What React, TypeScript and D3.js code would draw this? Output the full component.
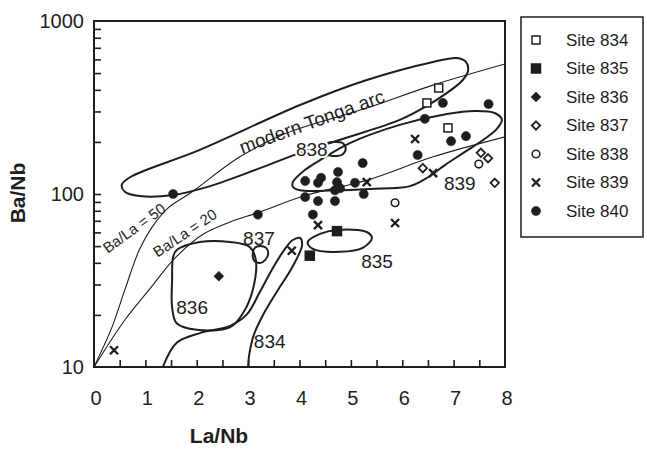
import { useEffect, useRef } from 'react'
import * as d3 from 'd3'

// [La/Nb, Ba/Nb] pairs
const site834 = [[6.71, 410], [6.48, 336], [6.89, 241]]
const site835 = [[4.73, 61], [4.2, 44]]
const site836 = [[2.43, 33.5]]
const site837 = [[6.4, 141], [7.53, 173], [7.67, 161], [7.8, 116]]
const site838 = [[7.49, 149], [5.86, 89]]
const site839 = [[6.25, 208], [6.6, 132], [5.31, 117], [5.86, 68], [4.36, 66], [0.39, 12.5], [3.85, 47]]
const site840 = [
  [6.79, 336], [7.68, 331], [6.44, 272], [6.95, 202], [7.24, 216], [6.3, 168],
  [5.23, 151], [4.75, 134], [4.11, 119], [4.36, 116], [4.42, 124], [4.73, 117],
  [4.69, 105], [4.79, 108], [5.08, 116], [4.11, 96], [4.36, 91], [4.69, 91],
  [5.25, 100], [4.26, 76], [1.54, 100], [3.19, 76],
]

// reference lines
const baLa50 = [
  [0, 10], [0.35, 17], [0.6, 27.9], [0.88, 47.4], [1.13, 64.4], [1.46, 84],
  [1.87, 101], [2.84, 164], [3.75, 225], [5.31, 314], [6.6, 426], [8, 564],
]
const baLa20 = [
  [0, 10], [0.6, 18.7], [1.07, 27.9], [1.58, 42.7], [2.1, 58], [2.65, 68.9],
  [3.17, 77.6], [4.14, 98.6], [5.31, 120], [6.6, 164], [8, 214],
]

// field outlines
const fieldTonga = [
  [0.54, 113], [0.7, 125], [2.06, 180], [4.01, 327], [5.31, 456], [6.6, 580],
  [7.06, 611], [7.24, 580], [7.28, 514], [7.16, 450], [6.87, 384], [6.48, 323],
  [5.95, 268], [4.84, 208], [4.01, 173], [3.23, 141], [2.26, 111], [1.54, 98.6],
  [0.89, 97.3], [0.6, 103],
]
const field839 = [
  [3.87, 117], [4.11, 138], [4.4, 157], [4.98, 197], [5.95, 251], [6.87, 290],
  [7.41, 302], [7.8, 294], [7.94, 268], [7.84, 238], [7.65, 213], [7.22, 175],
  [6.83, 147], [6.5, 125], [6.15, 111], [5.37, 107], [4.69, 105], [4.01, 105],
  [3.87, 110],
]
const field838 = [
  [4.49, 182], [4.55, 197], [4.69, 200], [4.84, 197], [4.9, 182], [4.82, 168],
  [4.69, 166], [4.55, 168],
]
const field835 = [
  [4.16, 52.8], [4.4, 58.8], [4.73, 62], [5.31, 60.3], [5.41, 55.7], [5.23, 48.8],
  [4.79, 46.3], [4.26, 48.1],
]
const field837 = [
  [3.09, 45], [3.13, 48.8], [3.23, 50.1], [3.35, 48.8], [3.39, 45], [3.33, 41.5],
  [3.23, 39.9], [3.11, 41.5],
]
const field836 = [
  [1.61, 47.4], [2.06, 52.8], [2.65, 52.8], [3.03, 49.4], [3.15, 41.5], [3.09, 27.9],
  [2.9, 20.5], [2.65, 17], [2.0, 16.4], [1.61, 17.9], [1.52, 22.2], [1.52, 31.8],
  [1.54, 43.3],
]
// open at the bottom axis
const field834 = [
  [1.34, 10], [1.61, 13.8], [2.06, 15.7], [2.65, 17.3], [2.98, 20.2], [3.23, 27.2],
  [3.46, 36.4], [3.7, 47.4], [3.87, 54.2], [4.01, 55.7], [4.05, 50.7], [3.85, 37.3],
  [3.58, 27.9], [3.31, 20.5], [3.11, 15.3], [3.02, 11.7], [3.0, 10],
]

// annotation text: [text, La/Nb, Ba/Nb, rotation, size]
const annotations: [string, number, number, number, number][] = [
  ['modern Tonga arc', 4.24, 262, -20, 19],
  ['838', 4.24, 180, 0, 19],
  ['839', 7.12, 116, 0, 19],
  ['835', 5.51, 41, 0, 19],
  ['837', 3.21, 55.7, 0, 19],
  ['836', 1.91, 22.2, 0, 19],
  ['834', 3.42, 14.1, 0, 19],
  ['Ba/La = 50', 0.78, 63.5, -36, 15],
  ['Ba/La = 20', 1.77, 59.5, -34, 15],
]

const xTicks = [0, 1, 2, 3, 4, 5, 6, 7, 8]
const xMinorTicks = [0.5, 1, 1.5, 2, 2.5, 3, 3.5, 4, 4.5, 5, 5.5, 6, 6.5, 7, 7.5]
const yTicks = [10, 100, 1000]

const siteNames = ['Site 834', 'Site 835', 'Site 836', 'Site 837', 'Site 838', 'Site 839', 'Site 840']
const siteShapes = ['squareOpen', 'square', 'diamond', 'diamondOpen', 'circleOpen', 'cross', 'circle']
const siteData = [site834, site835, site836, site837, site838, site839, site840]

const INK = '#1e1e1e'
const FONT = '"Liberation Sans", Arial, Helvetica, sans-serif'

function drawMarker(g: any, shape: string, cx: number, cy: number) {
  if (shape === 'squareOpen' || shape === 'square') {
    const s = shape === 'square' ? 9 : 8
    g.append('rect')
      .attr('x', cx - s / 2).attr('y', cy - s / 2)
      .attr('width', s).attr('height', s)
      .attr('fill', shape === 'square' ? INK : 'white')
      .attr('stroke', INK).attr('stroke-width', 1.5)
  } else if (shape === 'circle' || shape === 'circleOpen') {
    g.append('circle')
      .attr('cx', cx).attr('cy', cy)
      .attr('r', shape === 'circle' ? 4.6 : 3.8)
      .attr('fill', shape === 'circle' ? INK : 'white')
      .attr('stroke', INK).attr('stroke-width', shape === 'circle' ? 0.5 : 1.6)
  } else if (shape === 'diamond' || shape === 'diamondOpen') {
    const r = shape === 'diamond' ? 5 : 4.2
    g.append('path')
      .attr('d', `M${cx},${cy - r}L${cx + r},${cy}L${cx},${cy + r}L${cx - r},${cy}Z`)
      .attr('fill', shape === 'diamond' ? INK : 'white')
      .attr('stroke', INK).attr('stroke-width', shape === 'diamond' ? 0.5 : 1.8)
  } else if (shape === 'cross') {
    const r = 4
    g.append('path')
      .attr('d', `M${cx - r},${cy - r}L${cx + r},${cy + r}M${cx + r},${cy - r}L${cx - r},${cy + r}`)
      .attr('stroke', INK).attr('stroke-width', 2.4).attr('fill', 'none')
  }
}

export default function App() {
  const svgRef = useRef<SVGSVGElement>(null)

  useEffect(() => {
    if (!svgRef.current) return
    const svg = d3.select(svgRef.current)
    svg.selectAll('*').remove()

    const x = d3.scaleLinear().domain([0, 8]).range([94, 505])
    const y = d3.scaleLog().domain([10, 1000]).range([367, 21])

    svg.append('rect').attr('width', 647).attr('height', 452).attr('fill', 'white')

    // clip to plot area
    svg.append('defs').append('clipPath').attr('id', 'plotclip')
      .append('rect').attr('x', 94).attr('y', 21).attr('width', 411).attr('height', 346)

    const line = d3.line<number[]>().x(d => x(d[0])).y(d => y(d[1]))
    const layer = svg.append('g').attr('clip-path', 'url(#plotclip)')

    // ratio lines
    ;[baLa50, baLa20].forEach(pts => {
      layer.append('path')
        .attr('d', line.curve(d3.curveCatmullRom.alpha(0.5))(pts))
        .attr('fill', 'none').attr('stroke', INK).attr('stroke-width', 1.1)
    })

    // fields
    ;[fieldTonga, field839, field838, field835, field837, field836].forEach(pts => {
      layer.append('path')
        .attr('d', line.curve(d3.curveCatmullRomClosed.alpha(0.5))(pts))
        .attr('fill', 'none').attr('stroke', INK).attr('stroke-width', 2)
    })
    layer.append('path')
      .attr('d', line.curve(d3.curveCatmullRom.alpha(0.5))(field834))
      .attr('fill', 'none').attr('stroke', INK).attr('stroke-width', 2)

    // annotations
    annotations.forEach(([t, ax, ay, rot, size]) => {
      layer.append('text')
        .attr('transform', `translate(${x(ax)},${y(ay)}) rotate(${rot})`)
        .attr('text-anchor', 'middle')
        .attr('dy', '0.35em')
        .attr('font-family', FONT)
        .attr('font-size', size)
        .attr('fill', INK)
        .attr('stroke', 'white').attr('stroke-width', t === '838' ? 4 : 0)
        .attr('paint-order', 'stroke')
        .text(t)
    })

    // points
    siteData.forEach((pts, i) => {
      pts.forEach(d => drawMarker(layer, siteShapes[i], x(d[0]), y(d[1])))
    })

    // inward ticks on bottom and left
    const xAxis = svg.append('g')
      .attr('transform', 'translate(0,367)')
      .call(d3.axisBottom(x).tickValues(xMinorTicks).tickSize(-7).tickSizeOuter(0).tickFormat(() => ''))
    xAxis.select('.domain').remove()
    xAxis.selectAll('line').attr('stroke', INK).attr('stroke-width', 1.6)

    const yAxis = svg.append('g')
      .attr('transform', 'translate(94,0)')
      .call(d3.axisLeft(y).tickValues(y.ticks().filter(v => v > 10 && v < 1000)).tickSize(-7).tickSizeOuter(0).tickFormat(() => ''))
    yAxis.select('.domain').remove()
    yAxis.selectAll('line').attr('stroke', INK).attr('stroke-width', 1.6)

    svg.append('rect')
      .attr('x', 94).attr('y', 21).attr('width', 411).attr('height', 346)
      .attr('fill', 'none').attr('stroke', INK).attr('stroke-width', 2)

    svg.append('g').selectAll('text').data(xTicks).enter().append('text')
      .attr('x', d => x(d) + 2).attr('y', 405)
      .attr('text-anchor', 'middle')
      .attr('font-family', FONT).attr('font-size', 20).attr('fill', INK)
      .text(d => d)

    svg.append('g').selectAll('text').data(yTicks).enter().append('text')
      .attr('x', 84).attr('y', d => y(d))
      .attr('dy', '0.35em')
      .attr('text-anchor', 'end')
      .attr('font-family', FONT).attr('font-size', 20).attr('fill', INK)
      .text(d => d)

    svg.append('text')
      .attr('x', 219).attr('y', 443)
      .attr('text-anchor', 'middle')
      .attr('font-family', FONT).attr('font-size', 21).attr('font-weight', 'bold').attr('fill', INK)
      .text('La/Nb')

    svg.append('text')
      .attr('transform', 'translate(25,193) rotate(-90)')
      .attr('text-anchor', 'middle')
      .attr('font-family', FONT).attr('font-size', 21).attr('font-weight', 'bold').attr('fill', INK)
      .text('Ba/Nb')

    // legend
    const legend = svg.append('g')
    legend.append('rect')
      .attr('x', 521).attr('y', 17).attr('width', 122).attr('height', 220)
      .attr('fill', 'white').attr('stroke', INK).attr('stroke-width', 1.5)

    siteNames.forEach((name, i) => {
      const ly = 40 + i * 28.5
      drawMarker(legend, siteShapes[i], 536, ly)
      legend.append('text')
        .attr('x', 566).attr('y', ly)
        .attr('dy', '0.35em')
        .attr('font-family', FONT).attr('font-size', 17).attr('fill', INK)
        .text(name)
    })
  }, [])

  return (
    <svg
      ref={svgRef}
      width={647}
      height={452}
      style={{ position: 'absolute', left: 0, top: 0, display: 'block' }}
    />
  )
}
